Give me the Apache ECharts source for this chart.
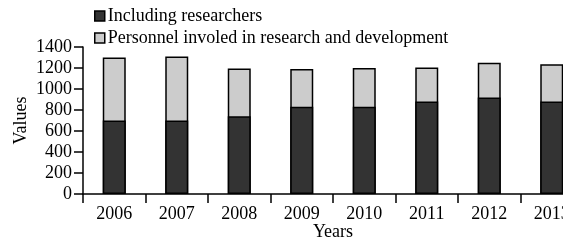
<!DOCTYPE html>
<html>
<head>
<meta charset="utf-8">
<script src="https://cdn.jsdelivr.net/npm/echarts@6/dist/echarts.min.js"></script>
<style>
  html, body { margin: 0; padding: 0; background: #fff; }
  #chart { width: 563px; height: 240px; }
</style>
</head>
<body>
<div id="chart"></div>
<script>
// data
var years = ['2006', '2007', '2008', '2009', '2010', '2011', '2012', '2013'];
var personnel = [1300, 1310, 1195, 1190, 1200, 1205, 1250, 1235];   // light bars (total)
var researchers = [700, 700, 740, 830, 830, 880, 920, 880];         // dark bars (part of total)
var yTicks = [0, 200, 400, 600, 800, 1000, 1200, 1400];

var font = 'Liberation Serif';
var chart = echarts.init(document.getElementById('chart'));

var option = {
  animation: false,
  textStyle: { fontFamily: font, color: '#000' },
  legend: {
    orient: 'vertical',
    left: 89,
    top: 2,
    icon: 'rect',
    itemWidth: 10,
    itemHeight: 10,
    itemGap: 4,
    itemStyle: { borderColor: '#000', borderWidth: 1.5 },
    textStyle: { fontFamily: font, fontSize: 18, color: '#000', padding: [0, 0, 0, -2] },
    data: ['Including researchers', 'Personnel involed in research and development']
  },
  grid: { left: 83, top: 47, width: 500, height: 147, outerBoundsMode: 'none', containLabel: false },
  xAxis: {
    type: 'category',
    data: years,
    name: 'Years',
    nameLocation: 'middle',
    nameGap: 29,
    nameMoveOverlap: false,
    nameTextStyle: { fontFamily: font, fontSize: 18, color: '#000' },
    axisLine: { lineStyle: { color: '#000', width: 1.5 } },
    axisTick: { show: true, length: 9, lineStyle: { color: '#000', width: 1.5 } },
    axisLabel: { fontFamily: font, fontSize: 18, color: '#000', margin: 11 }
  },
  yAxis: {
    type: 'value',
    min: yTicks[0],
    max: yTicks[yTicks.length - 1],
    interval: yTicks[1] - yTicks[0],
    name: 'Values',
    nameLocation: 'middle',
    nameGap: 53,
    nameMoveOverlap: false,
    nameTextStyle: { fontFamily: font, fontSize: 18, color: '#000' },
    splitLine: { show: false },
    axisLine: { show: true, lineStyle: { color: '#000', width: 1.5 } },
    axisTick: { show: true, length: 9, lineStyle: { color: '#000', width: 1.5 } },
    axisLabel: {
      fontFamily: font, fontSize: 18, color: '#000', margin: 11,
      formatter: function (v) { return String(v); }
    }
  },
  series: [
    {
      name: 'Personnel involed in research and development',
      type: 'bar',
      barWidth: 23,
      barGap: '-100%',
      data: personnel,
      itemStyle: { color: '#cccccc', borderColor: '#000', borderWidth: 1.5 }
    },
    {
      name: 'Including researchers',
      type: 'bar',
      barWidth: 23,
      data: researchers,
      itemStyle: { color: '#333333', borderColor: '#000', borderWidth: 1.5 }
    }
  ]
};

chart.setOption(option);
</script>
</body>
</html>
